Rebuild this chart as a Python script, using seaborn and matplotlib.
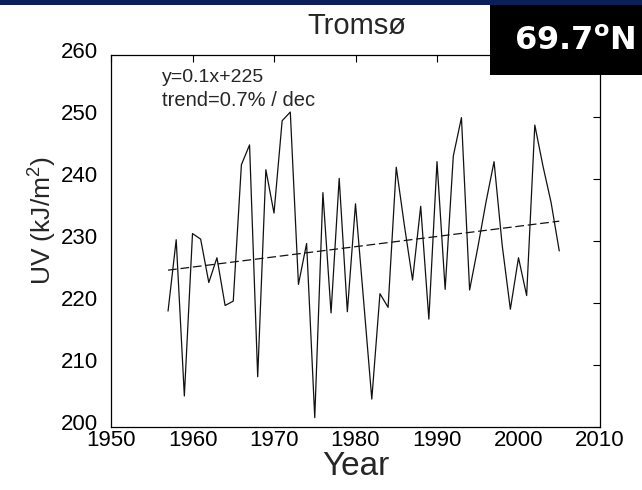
import matplotlib
matplotlib.use("Agg")
import matplotlib.pyplot as plt
import matplotlib.transforms as mtransforms
import seaborn as sns
import pandas as pd
from matplotlib.patches import Rectangle

years = [1957, 1958, 1959, 1960, 1961, 1962, 1963, 1964, 1965, 1966,
         1967, 1968, 1969, 1970, 1971, 1972, 1973, 1974, 1975, 1976,
         1977, 1978, 1979, 1980, 1981, 1982, 1983, 1984, 1985, 1986,
         1987, 1988, 1989, 1990, 1991, 1992, 1993, 1994, 1995, 1996,
         1997, 1998, 1999, 2000, 2001, 2002, 2003, 2004, 2005]
uv = [218.7, 230.2, 205.0, 231.2, 230.3, 223.3, 227.3, 219.6, 220.3, 242.3,
      245.5, 208.1, 241.5, 234.5, 249.4, 250.8, 223.0, 229.6, 201.5, 237.8,
      218.4, 240.1, 218.6, 236.0, 220.3, 204.5, 221.5, 219.3, 241.9, 232.5,
      223.7, 235.6, 217.4, 242.8, 222.2, 243.7, 249.9, 222.1, 228.9, 236.2,
      242.8, 229.3, 219.0, 227.3, 221.2, 248.7, 242.1, 236.2, 228.4]
trend_years = [1957, 2005]
trend_values = [225.3, 233.2]

x_ticks = [1950, 1960, 1970, 1980, 1990, 2000, 2010]
y_ticks = [200, 210, 220, 230, 240, 250, 260]

title = "Tromsø"
xlabel = "Year"
ylabel = "UV (kJ/m$^2$)"
eq_text = "y=0.1x+225"
trend_text = "trend=0.7% / dec"
lat_text = r"69.7$^{\mathbf{o}}$N"

sns.set_theme(style="white")
plt.rcParams["font.family"] = ["Liberation Sans", "DejaVu Sans"]
plt.rcParams["mathtext.fontset"] = "custom"
plt.rcParams["mathtext.rm"] = "Liberation Sans"
plt.rcParams["mathtext.bf"] = "DejaVu Sans:bold"

df = pd.DataFrame({"Year": years, "UV": uv})
tdf = pd.DataFrame({"Year": trend_years, "UV": trend_values})

fig = plt.figure(figsize=(6.42, 4.90), dpi=100)
fig.patch.set_facecolor("white")
ax = fig.add_axes([111 / 642, 1 - 427 / 490, (600 - 111) / 642, (427 - 55) / 490])

sns.lineplot(data=df, x="Year", y="UV", ax=ax, color="#111111", linewidth=0.9)
sns.lineplot(data=tdf, x="Year", y="UV", ax=ax, color="#111111", linewidth=0.9,
             linestyle=(0, (7, 3)))

ax.set_xlim(1950, 2010)
ax.set_ylim(200, 260)
ax.set_xticks(x_ticks)
ax.set_yticks(y_ticks)
ax.tick_params(axis="x", direction="in", length=5, width=0.8, top=True,
               labelsize=16, pad=2, colors="black")
ax.tick_params(axis="y", direction="in", length=5, width=0.8, right=True,
               labelsize=16, pad=9, colors="black")
# labels in the reference sit a few pixels above their ticks
shift = mtransforms.ScaledTranslation(0, 5 / 100, fig.dpi_scale_trans)
for lab in ax.get_yticklabels():
    lab.set_transform(lab.get_transform() + shift)
for s in ax.spines.values():
    s.set_color("black")
    s.set_linewidth(0.9)
ax.set_xlabel("")
ax.set_ylabel("")

fig.text(356 / 642, 1 - 475 / 490, xlabel, ha="center", va="baseline", fontsize=24)
fig.text(42 / 642, 1 - 221 / 490, ylabel, ha="center", va="center",
         rotation=90, fontsize=19)

fig.text(357 / 642, 1 - 34 / 490, title, ha="center", va="baseline", fontsize=21)
fig.text(162 / 642, 1 - 82 / 490, eq_text, ha="left", va="baseline", fontsize=14)
fig.text(162 / 642, 1 - 106 / 490, trend_text, ha="left", va="baseline", fontsize=14.5)

# navy band at top
fig.add_artist(Rectangle((0, 1 - 5 / 490), 1, 5 / 490, transform=fig.transFigure,
                         facecolor="#0b1f5c", edgecolor="none", zorder=5))
# black latitude box
fig.add_artist(Rectangle((490 / 642, 1 - 75 / 490), 152 / 642, 70 / 490,
                         transform=fig.transFigure, facecolor="black",
                         edgecolor="none", zorder=5))
fig.text(575 / 642, 1 - 50 / 490, lat_text, ha="center", va="baseline",
         fontsize=23, fontweight="bold", color="white",
         family=["DejaVu Sans"], zorder=6)

fig.savefig("out.png", dpi=100, facecolor="white")
